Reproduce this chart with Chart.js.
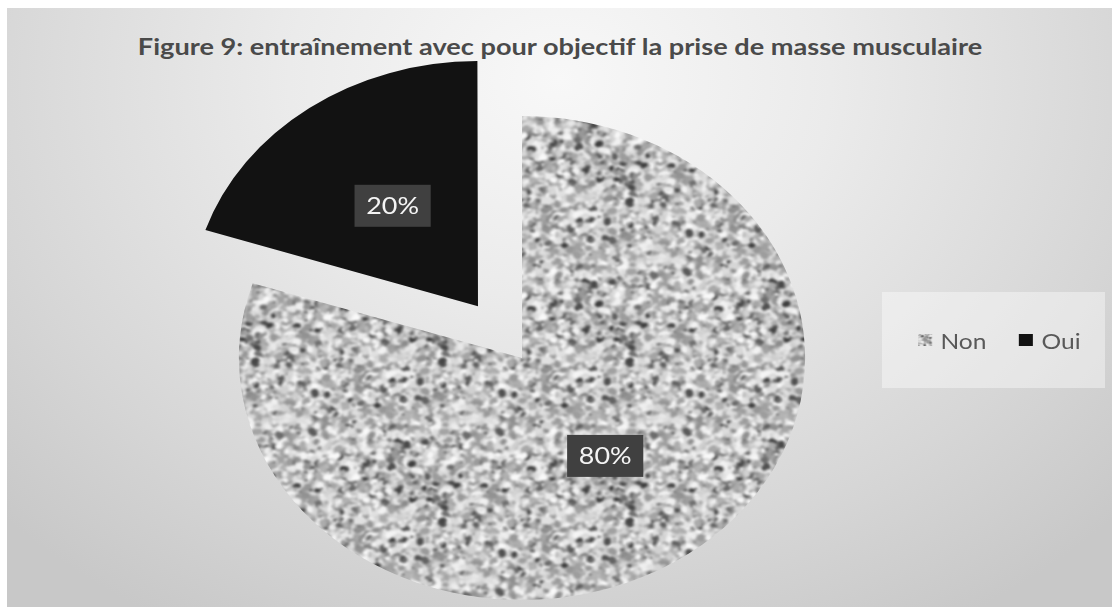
<!DOCTYPE html>
<html>
<head>
<meta charset="utf-8">
<script src="https://cdn.jsdelivr.net/npm/chart.js@4/dist/chart.umd.min.js"></script>
<style>
  html, body { margin: 0; padding: 0; background: #fff; }
  #wrap { position: relative; width: 1112px; height: 607px; overflow: hidden; }
  #bg {
    position: absolute; left: 7px; top: 8px; right: 0; bottom: 0;
    background: radial-gradient(ellipse 70% 105% at 50% 12%, #f8f8f8 0%, #ebebeb 35%, #d6d6d6 75%, #c8c8c8 100%);
  }
  #chartTitle {
    position: absolute; left: 0; top: 33px; width: 1120px; text-align: center;
    font: bold 23px Lato, sans-serif; line-height: 26px; color: #4a4a4a;
    transform: scaleX(1.18); transform-origin: 560px 0;
  }
  #legendBox {
    position: absolute; left: 882px; top: 292px; width: 223px; height: 96px;
    background: rgba(255, 255, 255, 0.4);
    display: flex; align-items: center; justify-content: center;
  }
  #legendItems {
    display: flex; align-items: center; transform: scaleX(1.17);
    font: 21px Lato, sans-serif; color: #595959; margin-left: 12px;
  }
  .item { display: flex; align-items: center; margin: 0 14px; }
  .swatch { width: 12px; height: 12px; margin-right: 7px; }
  canvas { position: absolute; left: 0; top: 0; }
</style>
</head>
<body>
<div id="wrap">
  <div id="bg"></div>
  <div id="chartTitle"></div>
  <canvas id="pieChart" width="1112" height="607"></canvas>
  <div id="legendBox"><div id="legendItems"></div></div>
</div>
<script>
var chartTitle = "Figure 9: entraînement avec pour objectif la prise de masse musculaire";
var categories = ["Non", "Oui"];
var percentages = [80, 20];
var explode = [0, 256];

var stretchX = 1.17;

// deterministic speckle texture for the "Non" slice
function makeGranite(size) {
    var seed = 7;
    function rnd() {
        seed = (Math.imul(seed, 1664525) + 1013904223) >>> 0;
        return seed / 4294967296;
    }
    var tile = document.createElement("canvas");
    tile.width = tile.height = size;
    var g = tile.getContext("2d");
    g.fillStyle = "#b4b4b4";
    g.fillRect(0, 0, size, size);
    for (var k = 0; k < size * size / 8; k++) {
        var x = rnd() * size, y = rnd() * size;
        var r = 1 + rnd() * 2.4;
        var v = rnd(), gray;
        if (v < 0.13) gray = 60 + rnd() * 55;
        else if (v < 0.45) gray = 140 + rnd() * 40;
        else gray = 205 + rnd() * 45;
        gray = Math.round(gray);
        g.fillStyle = "rgb(" + gray + "," + gray + "," + gray + ")";
        var rot = rnd() * 3;
        for (var dx = -1; dx <= 1; dx++) {
            for (var dy = -1; dy <= 1; dy++) {
                g.beginPath();
                g.ellipse(x + dx * size, y + dy * size, r * 1.3, r, rot, 0, Math.PI * 2);
                g.fill();
            }
        }
    }
    // soften it a little without seams: tile 3x3, blur the whole block, keep the middle
    var big = document.createElement("canvas");
    big.width = big.height = size * 3;
    var bctx = big.getContext("2d");
    for (var i = 0; i < 3; i++) for (var j = 0; j < 3; j++) bctx.drawImage(tile, i * size, j * size);
    var soft = document.createElement("canvas");
    soft.width = soft.height = size * 3;
    var sctx = soft.getContext("2d");
    sctx.filter = "blur(0.8px)";
    sctx.drawImage(big, 0, 0);
    var out = document.createElement("canvas");
    out.width = out.height = size;
    out.getContext("2d").drawImage(soft, size, size, size, size, 0, 0, size, size);
    return out;
}

var granite = makeGranite(160);
var canvas = document.getElementById("pieChart");
var ctx = canvas.getContext("2d");
var granitePattern = ctx.createPattern(granite, "repeat");
var sliceColors = [granitePattern, "#121212"];

document.getElementById("chartTitle").textContent = chartTitle;

// legend
var legendItems = document.getElementById("legendItems");
categories.forEach(function(name, i) {
    var item = document.createElement("div");
    item.className = "item";
    var sw = document.createElement("div");
    sw.className = "swatch";
    if (i === 0) {
        sw.style.background = "url(" + granite.toDataURL() + ")";
        sw.style.backgroundSize = "60px 60px";
    } else {
        sw.style.background = "#121212";
    }
    var label = document.createElement("span");
    label.textContent = name;
    item.appendChild(sw);
    item.appendChild(label);
    legendItems.appendChild(item);
});

// how far Chart.js really moves an exploded arc (see ArcElement.draw)
function arcShift(arc) {
    var off = (arc.options.offset || 0) / 4;
    var circ = arc.endAngle - arc.startAngle;
    return off + off * (1 - Math.sin(Math.min(Math.PI, circ)));
}

// widen the pie horizontally like the original picture, and put the value boxes on it
var stretchPlugin = {
    id: "stretch",
    beforeDatasetsDraw: function(chart) {
        var arc = chart.getDatasetMeta(0).data[0];
        var c = chart.ctx;
        c.save();
        c.translate(arc.x, 0);
        c.scale(stretchX, 1);
        c.translate(-arc.x, 0);
    },
    afterDatasetsDraw: function(chart) {
        var c = chart.ctx;
        var meta = chart.getDatasetMeta(0);
        c.font = "23px Lato, sans-serif";
        c.textAlign = "center";
        c.textBaseline = "middle";
        meta.data.forEach(function(arc, i) {
            var mid = (arc.startAngle + arc.endAngle) / 2;
            var dist = arcShift(arc) + arc.outerRadius * 0.5;
            var px = arc.x + Math.cos(mid) * dist;
            var py = arc.y + Math.sin(mid) * dist;
            var txt = percentages[i] + "%";
            var w = c.measureText(txt).width + 20;
            var h = 42;
            c.fillStyle = "#404040";
            c.fillRect(px - w / 2, py - h / 2, w, h);
            c.fillStyle = "#f4f4f4";
            c.fillText(txt, px, py + 1);
        });
        c.restore();
    }
};

var pieChart = new Chart(canvas, {
    type: "pie",
    data: {
        labels: categories,
        datasets: [{
            data: percentages,
            backgroundColor: sliceColors,
            borderWidth: 0,
            offset: explode,
            radius: 242
        }]
    },
    options: {
        responsive: false,
        animation: false,
        layout: { padding: { left: 0, right: 68, top: 109, bottom: 0 } },
        plugins: {
            legend: { display: false },
            title: { display: false },
            tooltip: { enabled: false }
        }
    },
    plugins: [stretchPlugin]
});
</script>
</body>
</html>
